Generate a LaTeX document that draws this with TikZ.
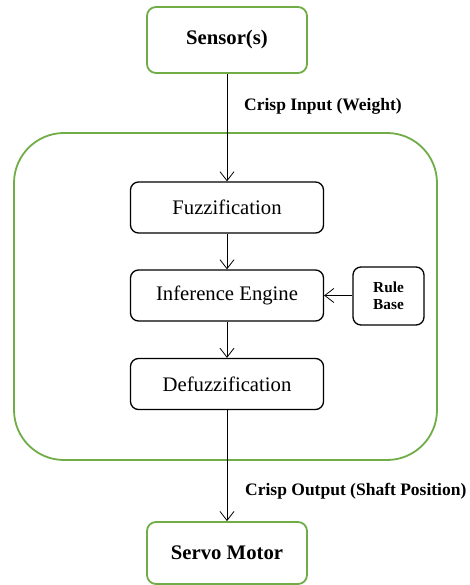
\documentclass[tikz,border=0pt]{standalone}
\usepackage{fontspec}
\setmainfont{Liberation Serif}
\usetikzlibrary{arrows.meta}
\definecolor{boxgreen}{HTML}{70AD47}
\begin{document}
\begin{tikzpicture}[x=1pt,y=-1pt,
  greenbox/.style={draw=boxgreen,line width=1.8pt,rounded corners=9pt,fill=white,inner sep=0pt,font=\fontsize{20.7}{23}\selectfont\bfseries},
  procbox/.style={draw=black,line width=1.3pt,rounded corners=8pt,fill=white,inner sep=0pt,minimum width=193pt,minimum height=51pt,font=\fontsize{20.7}{23}\selectfont},
  rulebox/.style={draw=black,line width=1.3pt,rounded corners=8pt,fill=white,inner sep=0pt,minimum width=71pt,minimum height=58pt,align=center,font=\fontsize{15.3}{17.5}\selectfont\bfseries},
  flow/.style={draw=black,line width=0.8pt,-{Straight Barb[length=9pt,width=14pt,line width=0.8pt]}},
  lbl/.style={font=\fontsize{17.5}{20}\selectfont\bfseries,anchor=west,inner sep=0pt}]
\useasboundingbox (0,0) rectangle (469,585);
% container
\draw[draw=boxgreen,line width=1.8pt,rounded corners=50pt] (14,133) rectangle (437,460);
\node[greenbox,minimum width=160pt,minimum height=66pt] (sensor) at (227,40) {Sensor(s)};
\node[procbox] (fuzz) at (227,207.5) {Fuzzification};
\node[procbox] (infer) at (227,295.5) {Inference Engine};
\node[procbox] (defuzz) at (227,384) {Defuzzification};
\node[rulebox] (rule) at (388.5,296) {Rule\\Base};
\node[greenbox,minimum width=160pt,minimum height=62pt] (servo) at (227,553) {Servo Motor};
\draw[flow] (sensor) -- (fuzz);
\draw[flow] (fuzz) -- (infer);
\draw[flow] (infer) -- (defuzz);
\draw[flow] (rule.west |- infer) -- (infer.east);
\draw[flow] (defuzz) -- (servo);
\node[lbl] (lin) at (244,106) {Crisp Input (Weight)};
\node[lbl] (lout) at (245,491) {Crisp Output (Shaft Position)};
\end{tikzpicture}
\end{document}
